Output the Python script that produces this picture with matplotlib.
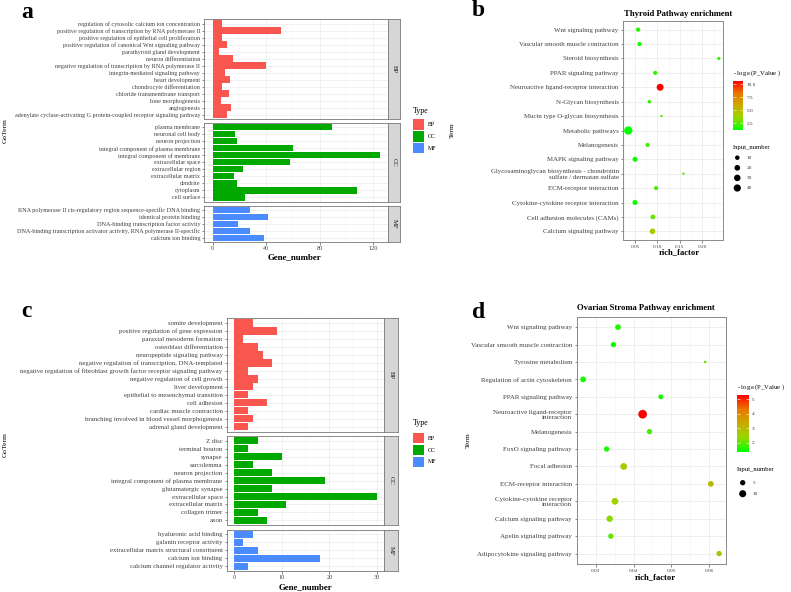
import numpy as np
import matplotlib.pyplot as plt
from matplotlib.colors import LinearSegmentedColormap, Normalize
from matplotlib.cm import ScalarMappable
from matplotlib.patches import Rectangle

plt.rcParams['font.family'] = ['Liberation Serif', 'DejaVu Serif']
plt.rcParams['mathtext.fontset'] = 'stix'

# ---- panel a: GO terms (thyroid) ----
a_bp_terms = ['regulation of cytosolic calcium ion concentration',
              'positive regulation of transcription by RNA polymerase II',
              'positive regulation of epithelial cell proliferation',
              'positive regulation of canonical Wnt signaling pathway',
              'parathyroid gland development',
              'neuron differentiation',
              'negative regulation of transcription by RNA polymerase II',
              'integrin-mediated signaling pathway',
              'heart development',
              'chondrocyte differentiation',
              'chloride transmembrane transport',
              'bone morphogenesis',
              'angiogenesis',
              'adenylate cyclase-activating G protein-coupled receptor signaling pathway']
a_bp_counts = [7, 51, 7, 11, 5, 15, 40, 9, 13, 7, 12, 6, 14, 11]
a_cc_terms = ['plasma membrane', 'neuronal cell body', 'neuron projection',
              'integral component of plasma membrane', 'integral component of membrane',
              'extracellular space', 'extracellular region', 'extracellular matrix',
              'dendrite', 'cytoplasm', 'cell surface']
a_cc_counts = [89, 17, 18, 60, 125, 58, 23, 16, 18, 108, 24]
a_mf_terms = ['RNA polymerase II cis-regulatory region sequence-specific DNA binding',
              'identical protein binding',
              'DNA-binding transcription factor activity',
              'DNA-binding transcription activator activity, RNA polymerase II-specific',
              'calcium ion binding']
a_mf_counts = [28, 41, 19, 28, 38]

# ---- panel c: GO terms (ovarian stroma) ----
c_bp_terms = ['somite development', 'positive regulation of gene expression',
              'paraxial mesoderm formation', 'osteoblast differentiation',
              'neuropeptide signaling pathway',
              'negative regulation of transcription, DNA-templated',
              'negative regulation of fibroblast growth factor receptor signaling pathway',
              'negative regulation of cell growth', 'liver development',
              'epithelial to mesenchymal transition', 'cell adhesion',
              'cardiac muscle contraction',
              'branching involved in blood vessel morphogenesis',
              'adrenal gland development']
c_bp_counts = [4, 9, 2, 5, 6, 8, 3, 5, 4, 3, 7, 3, 4, 3]
c_cc_terms = ['Z disc', 'terminal bouton', 'synapse', 'sarcolemma', 'neuron projection',
              'integral component of plasma membrane', 'glutamatergic synapse',
              'extracellular space', 'extracellular matrix', 'collagen trimer', 'axon']
c_cc_counts = [5, 3, 10, 4, 8, 19, 8, 30, 11, 5, 7]
c_mf_terms = ['hyaluronic acid binding', 'galanin receptor activity',
              'extracellular matrix structural constituent', 'calcium ion binding',
              'calcium channel regulator activity']
c_mf_counts = [4, 2, 5, 18, 3]

type_names = ['BP', 'CC', 'MF']
type_colors = ['#F8564E', '#00A800', '#4A8CFF']

# ---- panel b: KEGG thyroid ----
b_terms = ['Wnt signaling pathway', 'Vascular smooth muscle contraction',
           'Steroid biosynthesis', 'PPAR signaling pathway',
           'Neuroactive ligand-receptor interaction', 'N-Glycan biosynthesis',
           'Mucin type O-glycan biosynthesis', 'Metabolic pathways', 'Melanogenesis',
           'MAPK signaling pathway',
           'Glycosaminoglycan biosynthesis - chondroitin\nsulfate / dermatan sulfate',
           'ECM-receptor interaction', 'Cytokine-cytokine receptor interaction',
           'Cell adhesion molecules (CAMs)', 'Calcium signaling pathway']
b_rich = [0.057, 0.060, 0.237, 0.095, 0.106, 0.082, 0.109, 0.035, 0.078, 0.050,
          0.158, 0.097, 0.050, 0.090, 0.089]
b_count = [9, 8, 4, 8, 36, 5, 3, 58, 8, 14, 3, 8, 14, 12, 20]
b_logp = [1.8, 1.6, 2.0, 2.0, 10.6, 2.0, 2.5, 1.2, 2.2, 1.5, 2.5, 2.3, 1.4, 2.8, 4.0]

# ---- panel d: KEGG ovarian stroma ----
d_terms = ['Wnt signaling pathway', 'Vascular smooth muscle contraction',
           'Tyrosine metabolism', 'Regulation of actin cytoskeleton',
           'PPAR signaling pathway', 'Neuroactive ligand-receptor\ninteraction',
           'Melanogenesis', 'FoxO signaling pathway', 'Focal adhesion',
           'ECM-receptor interaction', 'Cytokine-cytokine receptor\ninteraction',
           'Calcium signaling pathway', 'Apelin signaling pathway',
           'Adipocytokine signaling pathway']
d_rich = [0.0359, 0.0347, 0.0589, 0.0267, 0.0472, 0.0424, 0.0442, 0.0329, 0.0374,
          0.0604, 0.0351, 0.0337, 0.0340, 0.0626]
d_count = [6, 5, 2, 6, 4, 17, 5, 5, 9, 6, 9, 8, 5, 5]
d_logp = [1.6, 1.5, 2.0, 1.5, 1.5, 5.3, 1.8, 1.5, 2.6, 3.0, 2.5, 2.3, 2.0, 2.8]

# green -> red gradient (approximating ggplot's Lab interpolation)
cmap = LinearSegmentedColormap.from_list(
    'gr', ['#00FF00', '#98D700', '#C9AB00', '#E87700', '#FF0000'])

W, H = 791, 592
fig = plt.figure(figsize=(W / 100, H / 100), dpi=100)


def px_axes(x0, y0, x1, y1):
    return fig.add_axes([x0 / W, 1 - y1 / H, (x1 - x0) / W, (y1 - y0) / H])


def go_panel(groups, x0, x1, xs, top, bottom, xlim, xticks, xminor, fs):
    gap = 4.3
    units = sum(len(g[1]) + 0.2 for g in groups)
    per = (bottom - top - gap * (len(groups) - 1)) / units
    y = top
    for i, (name, terms, counts, color) in enumerate(groups):
        n = len(terms)
        h = (n + 0.2) * per
        ax = px_axes(x0, y, x1, y + h)
        pos = np.arange(n, 0, -1)
        ax.barh(pos, counts, height=0.9, color=color, zorder=2)
        ax.set_xlim(*xlim)
        ax.set_ylim(0.4, n + 0.6)
        ax.set_yticks(pos)
        ax.set_yticklabels(terms, fontsize=fs, color='#404040')
        ax.set_xticks(xticks)
        ax.set_xticks(xminor, minor=True)
        ax.set_axisbelow(True)
        ax.grid(True, which='major', color='#EBEBEB', lw=0.5)
        ax.grid(True, which='minor', axis='x', color='#F3F3F3', lw=0.35)
        ax.tick_params(which='major', length=1.8, width=0.4, color='#333333', pad=1.2)
        ax.tick_params(which='minor', length=0)
        if i < len(groups) - 1:
            ax.tick_params(axis='x', labelbottom=False, length=0)
        else:
            ax.tick_params(axis='x', labelsize=4.4, labelcolor='#404040')
        for s in ax.spines.values():
            s.set_color('#777777')
            s.set_linewidth(0.6)
        sx = px_axes(x1, y, xs, y + h)
        sx.set_facecolor('#D6D6D6')
        sx.set_xticks([])
        sx.set_yticks([])
        for s in sx.spines.values():
            s.set_color('#777777')
            s.set_linewidth(0.6)
        sx.text(0.5, 0.5, name, rotation=-90, ha='center', va='center',
                fontsize=4.8, color='#1A1A1A', transform=sx.transAxes)
        y += h + gap


def size_px(v, vmin, vmax, dmin, dmax):
    v = np.asarray(v, dtype=float)
    return dmin + (dmax - dmin) * np.sqrt((v - vmin) / (vmax - vmin))


def bubble_panel(terms, rich, counts, logp, box, xlim, xticks, xlabels, xminor,
                 norm, sizes, fs):
    ax = px_axes(*box)
    n = len(terms)
    pos = np.arange(n, 0, -1)
    d = size_px(counts, *sizes)
    ax.scatter(rich, pos, s=(d * 0.72) ** 2, c=logp, cmap=cmap, norm=norm,
               edgecolors='none', zorder=3)
    ax.set_xlim(*xlim)
    ax.set_ylim(0.4, n + 0.6)
    ax.set_yticks(pos)
    ax.set_yticklabels(terms, fontsize=fs, color='#404040', linespacing=1.15)
    ax.set_xticks(xticks)
    ax.set_xticklabels(xlabels, fontsize=3.8, color='#404040')
    ax.set_xticks(xminor, minor=True)
    ax.set_axisbelow(True)
    ax.grid(True, which='major', color='#EBEBEB', lw=0.55)
    ax.grid(True, which='minor', axis='x', color='#F3F3F3', lw=0.4)
    ax.tick_params(which='major', length=1.8, width=0.4, color='#333333', pad=1.5)
    ax.tick_params(which='minor', length=0)
    for s in ax.spines.values():
        s.set_color('#8A8A8A')
        s.set_linewidth(0.7)
    return ax


def colorbar_legend(box, norm, ticks, labels):
    cax = px_axes(*box)
    cb = fig.colorbar(ScalarMappable(norm=norm, cmap=cmap), cax=cax)
    cb.outline.set_visible(False)
    cb.set_ticks(ticks)
    cb.set_ticklabels(labels)
    cax.tick_params(direction='in', color='white', length=2, width=0.4,
                    left=True, right=True, labelsize=3.8, labelcolor='#333333', pad=2.5)


# GO bar panels
go_panel([(type_names[0], a_bp_terms, a_bp_counts, type_colors[0]),
          (type_names[1], a_cc_terms, a_cc_counts, type_colors[1]),
          (type_names[2], a_mf_terms, a_mf_counts, type_colors[2])],
         204.3, 388.3, 400.3, 19.3, 242.3, (-6.25, 131.25),
         [0, 40, 80, 120], [20, 60, 100], 4.4)
go_panel([(type_names[0], c_bp_terms, c_bp_counts, type_colors[0]),
          (type_names[1], c_cc_terms, c_cc_counts, type_colors[1]),
          (type_names[2], c_mf_terms, c_mf_counts, type_colors[2])],
         226.7, 384.3, 398.3, 318.3, 571.0, (-1.5, 31.5),
         [0, 10, 20, 30], [5, 15, 25], 4.85)

# bubble panels
b_norm = Normalize(1.2, 10.6)
b_sizes = (3, 58, 2.4, 8.3)
bubble_panel(b_terms, b_rich, b_count, b_logp, (623.3, 21, 722.7, 240),
             (0.0239, 0.2455), [0.05, 0.10, 0.15, 0.20],
             ['0.05', '0.10', '0.15', '0.20'], [0.025, 0.075, 0.125, 0.175, 0.225],
             b_norm, b_sizes, 4.95)
d_norm = Normalize(1.37, 5.3)
d_sizes = (2, 17, 2.6, 8.7)
bubble_panel(d_terms, d_rich, d_count, d_logp, (576.7, 316.7, 726, 564),
             (0.025, 0.0644), [0.03, 0.04, 0.05, 0.06],
             ['0.03', '0.04', '0.05', '0.06'], [0.035, 0.045, 0.055],
             d_norm, d_sizes, 5.0)

colorbar_legend((733, 81, 743, 130), b_norm, [2.5, 5.0, 7.5, 10.0],
                ['2.5', '5.0', '7.5', '10.0'])
colorbar_legend((737, 395, 748.7, 451.7), d_norm, [2, 3, 4, 5],
                ['2', '3', '4', '5'])

# overlay in pixel coordinates for labels and legends
ov = fig.add_axes([0, 0, 1, 1])
ov.set_xlim(0, W)
ov.set_ylim(H, 0)
ov.axis('off')
ov.patch.set_alpha(0)

for lab, x, y in [('a', 27.5, 18.5), ('b', 478, 15.5), ('c', 26, 317.3), ('d', 478.3, 318.5)]:
    ov.text(x, y, lab, fontsize=17, fontweight='bold', ha='center', va='baseline')

ov.text(5, 130.8, 'GoTerm', rotation=90, fontsize=5.4, ha='center', va='center')
ov.text(5, 444.5, 'GoTerm', rotation=90, fontsize=5.4, ha='center', va='center')
ov.text(295, 257, 'Gene_number', fontsize=6.4, fontweight='bold', ha='center', va='center')
ov.text(305.5, 587.5, 'Gene_number', fontsize=6.4, fontweight='bold', ha='center', va='center')

ov.text(452.5, 130.5, 'Term', rotation=90, fontsize=5.4, ha='center', va='center')
ov.text(468, 440.3, 'Term', rotation=90, fontsize=5.4, ha='center', va='center')
ov.text(678.3, 14, 'Thyroid Pathway enrichment', fontsize=6.2, fontweight='bold',
        ha='center', va='center')
ov.text(646, 308, 'Ovarian Stroma Pathway enrichment', fontsize=6.2, fontweight='bold',
        ha='center', va='center')
ov.text(679, 252, 'rich_factor', fontsize=6.2, fontweight='bold', ha='center', va='center')
ov.text(655, 577, 'rich_factor', fontsize=6.2, fontweight='bold', ha='center', va='center')

# Type legends
for ty, top in [(111, 119.3), (423.3, 433.0)]:
    ov.text(413, ty, 'Type', fontsize=5.8, ha='left', va='center')
    for j in range(3):
        yy = top + j * 11.8
        ov.add_patch(Rectangle((413, yy), 11, 10.4, facecolor=type_colors[j],
                               edgecolor='none'))
        ov.text(427.7, yy + 5.2, type_names[j], fontsize=4.3, ha='left', va='center')

# colour and size legend titles
ov.text(733, 73, r'- log$_{10}$(P_Value )', fontsize=4.8, ha='left', va='center')
ov.text(737, 387, r'- log$_{10}$(P_Value )', fontsize=4.8, ha='left', va='center')
ov.text(733, 147, 'Input_number', fontsize=4.8, ha='left', va='center')
ov.text(737, 470, 'Input_number', fontsize=4.8, ha='left', va='center')

b_leg_vals = [10, 20, 30, 40]
d_leg_vals = [5, 10]
for j, v in enumerate(b_leg_vals):
    yy = 157.7 + j * 10.1
    dd = size_px(v, *b_sizes)
    ov.scatter([737.3], [yy], s=(dd * 0.72) ** 2, color='black', edgecolors='none')
    ov.text(746.7, yy, str(v), fontsize=3.8, ha='left', va='center', color='#333333')
for j, v in enumerate(d_leg_vals):
    yy = 482.7 + j * 11
    dd = size_px(v, *d_sizes)
    ov.scatter([742.7], [yy], s=(dd * 0.72) ** 2, color='black', edgecolors='none')
    ov.text(752.7, yy, str(v), fontsize=3.8, ha='left', va='center', color='#333333')

fig.savefig('out.png', dpi=100)
